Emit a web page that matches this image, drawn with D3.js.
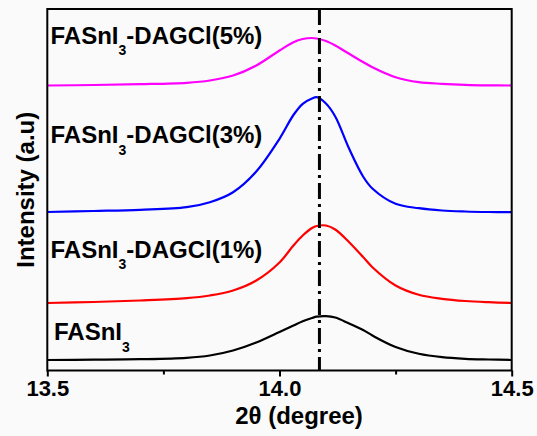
<!DOCTYPE html>
<html>
<head>
<meta charset="utf-8">
<script src="https://cdn.jsdelivr.net/npm/d3@7"></script>
<style>
	body { margin: 0; background: #fafafa; }
	text { font-family: "Liberation Sans", Arial, sans-serif; font-weight: bold; fill: #000; }
</style>
</head>
<body>
<svg id="chart" width="537" height="436"></svg>
<script>

// 2theta positions (degree) the curves were read at
var thetas = [13.50, 13.60, 13.70, 13.80, 13.85, 13.90, 13.95, 14.00, 14.03, 14.05, 14.07, 14.08,
	14.10, 14.12, 14.15, 14.18, 14.20, 14.25, 14.30, 14.35, 14.40, 14.45, 14.50];

// intensity (a.u., stacked with offsets as in the figure)
var fasni3 = [10.5, 10.8, 11.3, 12.7, 15, 20, 28, 38.5, 45, 49.3, 52.5, 53.8,
	54.3, 53, 47, 40.5, 35, 23.5, 16.7, 13.3, 11.7, 11, 10.5];
var dagcl1 = [67.5, 68.5, 70, 72.3, 75, 80, 90, 108, 125, 135, 142.5, 144.5,
	145, 141, 128.3, 113.5, 103.3, 85, 75.7, 71.7, 69.5, 68.3, 67.5];
var dagcl3 = [158.5, 159.5, 160.7, 163.3, 168.3, 178.3, 199, 231.7, 255.5, 266.7, 272, 273.3,
	267, 254, 221.7, 194, 182, 166.7, 162.3, 160, 159, 158.5, 158.3];
var dagcl5 = [285, 285.5, 286.3, 287.7, 290, 295, 305, 320, 328.3, 331.5, 332.5, 332,
	329.5, 325, 316.7, 308.5, 303.3, 293.3, 288.3, 286.7, 285.7, 285.2, 285];

var seriesColors = ["#000000", "#ff0000", "#0000ff", "#ff00ff"];
var seriesValues = [fasni3, dagcl1, dagcl3, dagcl5];

// label text pieces: before subscript, subscript, after subscript
var labelParts = [["FASnI", "3", ""], ["FASnI", "3", "-DAGCl(1%)"], ["FASnI", "3", "-DAGCl(3%)"], ["FASnI", "3", "-DAGCl(5%)"]];
var labelPos = [[54, 340], [50.5, 257.5], [50.5, 143], [50.5, 43.5]];

var xTicks = [13.5, 14.0, 14.5];
var xMinorTicks = [13.75, 14.25];
var refLine = 14.086;



var svg = d3.select("#chart");
var margin = { left: 47.3, right: 25.3, top: 9, bottom: 65.5 };
var W = 537, H = 436;

var x = d3.scaleLinear().domain([13.5, 14.5]).range([margin.left, W - margin.right]);
var y = d3.scaleLinear().domain([0, 361.5]).range([H - margin.bottom, margin.top]);

// curves
var line = d3.line()
	.x(function (d) { return x(d[0]); })
	.y(function (d) { return y(d[1]); })
	.curve(d3.curveCatmullRom.alpha(0.5));

seriesValues.forEach(function (vals, i) {
	svg.append("path")
		.datum(thetas.map(function (t, j) { return [t, vals[j]]; }))
		.attr("fill", "none")
		.attr("stroke", seriesColors[i])
		.attr("stroke-width", 2.2)
		.attr("d", line);
});

// dash-dot reference line
svg.append("line")
	.attr("x1", x(refLine)).attr("x2", x(refLine))
	.attr("y1", y.range()[1]).attr("y2", y.range()[0])
	.attr("stroke", "#000")
	.attr("stroke-width", 3)
	.attr("stroke-dasharray", "16,5,3,5");

// frame
svg.append("rect")
	.attr("x", margin.left).attr("y", margin.top)
	.attr("width", W - margin.left - margin.right)
	.attr("height", H - margin.top - margin.bottom)
	.attr("fill", "none")
	.attr("stroke", "#000")
	.attr("stroke-width", 2);

// x axis
var xAxis = svg.append("g")
	.attr("transform", "translate(0," + y.range()[0] + ")")
	.call(d3.axisBottom(x).tickValues(xTicks).tickFormat(d3.format(".1f")).tickSize(6).tickPadding(4));
xAxis.select(".domain").remove();
xAxis.selectAll("line").attr("stroke-width", 2);
xAxis.selectAll("text").style("font-size", "22px").attr("fill", "#000");
svg.append("g")
	.attr("transform", "translate(0," + y.range()[0] + ")")
	.call(d3.axisBottom(x).tickValues(xMinorTicks).tickFormat("").tickSize(4))
	.call(function (g) { g.select(".domain").remove(); g.selectAll("line").attr("stroke-width", 2); });

// axis titles
svg.append("text")
	.attr("x", 299).attr("y", 424)
	.attr("text-anchor", "middle")
	.style("font-size", "24px")
	.text("2θ (degree)");
svg.append("text")
	.attr("transform", "translate(34," + (margin.top + (H - margin.bottom - margin.top) / 2) + ") rotate(-90)")
	.attr("text-anchor", "middle")
	.style("font-size", "24px")
	.text("Intensity (a.u)");

// series labels
labelParts.forEach(function (p, i) {
	var t = svg.append("text")
		.attr("x", labelPos[i][0]).attr("y", labelPos[i][1])
		.style("font-size", "24px");
	t.append("tspan").text(p[0]);
	t.append("tspan").attr("dy", 11.5).style("font-size", "14px").text(p[1]);
	if (p[2]) t.append("tspan").attr("dy", -11.5).text(p[2]);
});

</script>
</body>
</html>
